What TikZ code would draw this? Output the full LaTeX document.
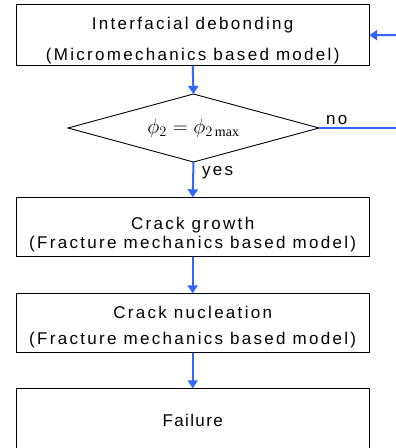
\documentclass[tikz,border=0pt]{standalone}
\usepackage{fontspec}
\setmainfont{Liberation Sans}[LetterSpace=13.5]
\setmathrm{Liberation Serif}
\usetikzlibrary{shapes.geometric,arrows.meta}
\definecolor{flowblue}{RGB}{51,102,255}
\newcommand{\topstrut}[1]{\rule{0pt}{#1}}
\newcommand{\botstrut}[1]{\rule[-#1]{0pt}{#1}}
\tikzset{
  stepbox/.style={draw=black, line width=0.9pt, minimum width=353pt, inner sep=0pt, outer sep=0pt, align=center},
  flow/.style={draw=flowblue, line width=2pt, -{Triangle[width=10pt,length=8pt]}},
  flowline/.style={draw=flowblue, line width=2pt},
  lbl/.style={font=\fontsize{17}{20}\selectfont, inner sep=0pt}
}
\begin{document}
\begin{tikzpicture}[x=1pt,y=-1pt]
\useasboundingbox (0,0) rectangle (396,448);
\clip (0,0) rectangle (396,448);
\node[stepbox, minimum height=61pt, font=\fontsize{17}{30.7}\selectfont] (deb) at (192.7,35.2)
  {\topstrut{22.9pt}Interfacial debonding\\(Micromechanics based model)\botstrut{4pt}};
\node[draw=black, line width=0.9pt, diamond, aspect=3.7, minimum width=251pt, minimum height=68pt, inner sep=0pt, outer sep=0pt] (dec) at (193.5,128)
  {\fontsize{20}{24}\selectfont$\phi_2=\phi_{2\,\mathrm{max}}$};
\node[stepbox, minimum height=59.4pt, font=\fontsize{17}{19.4}\selectfont] (grow) at (192.7,227)
  {\topstrut{28pt}Crack growth\\(Fracture mechanics based model)\botstrut{4pt}};
\node[stepbox, minimum height=59.4pt, font=\fontsize{17}{26.4}\selectfont] (nuc) at (192.7,323)
  {\topstrut{21pt}Crack nucleation\\(Fracture mechanics based model)\botstrut{4pt}};
\node[stepbox, minimum height=71.7pt, font=\fontsize{17}{20}\selectfont\addfontfeature{LetterSpace=8}] (fail) at (192.7,424.15)
  {\rule[-9.3pt]{0pt}{22.3pt}Failure};
\coordinate (noend) at (397,128);
\coordinate (backin) at (397,35);
\draw[flow] (deb.south) -- (dec.north);
\draw[flow] (dec.south) -- (grow.north);
\draw[flow] (grow.south) -- (nuc.north);
\draw[flow] (nuc.south) -- (fail.north);
\draw[flowline] (dec.east) -- (noend);
\draw[flow] (backin) -- (deb.east);
\node[lbl, anchor=base west] (no) at (326,124) {no};
\node[lbl, anchor=base west] (yes) at (202,175) {yes};
\end{tikzpicture}
\end{document}
